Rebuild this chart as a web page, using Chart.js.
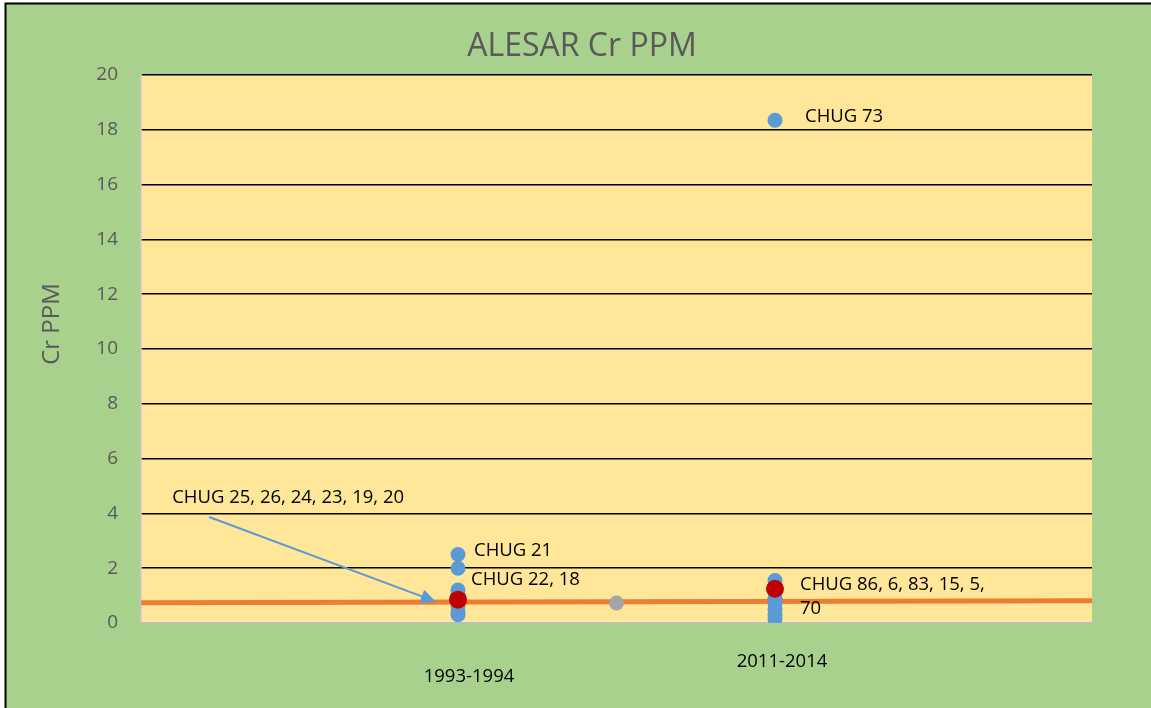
<!DOCTYPE html>
<html>
<head>
<meta charset="utf-8">
<script src="https://cdn.jsdelivr.net/npm/chart.js@4.4.0/dist/chart.umd.min.js"></script>
<style>
  html, body { margin: 0; padding: 0; background: #fff; }
</style>
</head>
<body>
<canvas id="myChart" width="1151" height="708"></canvas>
<script>
// data
var periods = ['1993-1994', '2011-2014'];
var periodX = [1, 2];
var cr1993 = [2.5, 2.0, 1.2, 1.0, 0.8, 0.6, 0.4, 0.3];
var cr2011 = [18.35, 1.55, 1.3, 1.1, 0.9, 0.7, 0.5, 0.3, 0.15];
var meanCr = [0.85, 1.25];
var midX = 1.5;
var midCr = 0.73;
var trendX = [0, 3];
var trendCr = [0.74, 0.81];

// sample labels, tied to a point value
var labelText = ['CHUG 21', 'CHUG 22, 18', 'CHUG 73', 'CHUG 86, 6, 83, 15, 5,', '70'];
var labelX = [1, 1, 2, 2, 2];
var labelY = [2.5, 1.2, 18.35, 1.25, 1.25];
var arrowText = 'CHUG 25, 26, 24, 23, 19, 20';
var arrowFrom = [0.215, 3.87];
var arrowTo = [0.93, 0.78];

var FONT = '"Open Sans", Lato, "Liberation Sans", sans-serif';
var ctx = document.getElementById('myChart').getContext('2d');

function pts(xs, ys) {
    return ys.map(function (y, i) { return { x: Array.isArray(xs) ? xs[i] : xs, y: y }; });
}

// fundo, moldura, títulos e rótulos
var decor = {
    id: 'decor',
    beforeDraw: function (chart) {
        var c = chart.ctx, a = chart.chartArea;
        c.save();
        c.fillStyle = '#ffffff';
        c.fillRect(0, 0, chart.width, chart.height);
        c.fillStyle = '#A9D18E';
        c.fillRect(5, 3, chart.width - 5, chart.height - 3);
        c.strokeStyle = '#000000';
        c.lineWidth = 2;
        c.beginPath();
        c.moveTo(5.5, chart.height);
        c.lineTo(5.5, 3.5);
        c.lineTo(chart.width, 3.5);
        c.stroke();
        c.fillStyle = '#FFE699';
        c.fillRect(a.left, a.top, a.right - a.left, a.bottom - a.top);
        c.restore();
    },
    afterDraw: function (chart) {
        var c = chart.ctx, a = chart.chartArea;
        var xs = chart.scales.x, ys = chart.scales.y;
        c.save();
        // title
        c.fillStyle = '#595959';
        c.font = '32px ' + FONT;
        c.textAlign = 'center';
        c.textBaseline = 'middle';
        c.fillText('ALESAR Cr PPM', 582, 47);
        // y title
        c.font = '24px ' + FONT;
        c.translate(52, 324);
        c.rotate(-Math.PI / 2);
        c.fillText('Cr PPM', 0, 0);
        c.restore();

        c.save();
        c.fillStyle = '#000000';
        c.font = '18.5px ' + FONT;
        c.textBaseline = 'middle';
        c.textAlign = 'center';
        // period labels
        c.fillText(periods[0], xs.getPixelForValue(periodX[0]) + 11, a.bottom + 54);
        c.fillText(periods[1], xs.getPixelForValue(periodX[1]) + 7, a.bottom + 39);
        // point labels
        c.textAlign = 'left';
        var dx = [16, 13, 30, 25, 25];
        var dy = [-4, -10, -3, -4, 20];
        labelText.forEach(function (t, i) {
            c.fillText(t, xs.getPixelForValue(labelX[i]) + dx[i], ys.getPixelForValue(labelY[i]) + dy[i]);
        });
        // arrow
        var x0 = xs.getPixelForValue(arrowFrom[0]), y0 = ys.getPixelForValue(arrowFrom[1]);
        var x1 = xs.getPixelForValue(arrowTo[0]), y1 = ys.getPixelForValue(arrowTo[1]);
        c.fillText(arrowText, x0 - 37, y0 - 19);
        var ang = Math.atan2(y1 - y0, x1 - x0);
        c.strokeStyle = '#5B9BD5';
        c.fillStyle = '#5B9BD5';
        c.lineWidth = 2;
        c.beginPath();
        c.moveTo(x0, y0);
        c.lineTo(x1 - 12 * Math.cos(ang), y1 - 12 * Math.sin(ang));
        c.stroke();
        c.beginPath();
        c.moveTo(x1, y1);
        c.lineTo(x1 - 15 * Math.cos(ang) + 7 * Math.sin(ang), y1 - 15 * Math.sin(ang) - 7 * Math.cos(ang));
        c.lineTo(x1 - 15 * Math.cos(ang) - 7 * Math.sin(ang), y1 - 15 * Math.sin(ang) + 7 * Math.cos(ang));
        c.closePath();
        c.fill();
        c.restore();
    }
};

var config = {
    type: 'scatter',
    data: {
        datasets: [
            {
                type: 'line',
                label: 'Tendência',
                data: pts(trendX, trendCr),
                borderColor: '#ED7D31',
                borderWidth: 5,
                pointRadius: 0,
                order: 4
            },
            {
                label: periods[0],
                data: pts(periodX[0], cr1993),
                backgroundColor: '#5B9BD5',
                borderWidth: 0,
                pointRadius: 7.5,
                order: 3
            },
            {
                label: periods[1],
                data: pts(periodX[1], cr2011),
                backgroundColor: '#5B9BD5',
                borderWidth: 0,
                pointRadius: 7.5,
                order: 3
            },
            {
                label: 'Mid',
                data: [{ x: midX, y: midCr }],
                backgroundColor: '#A5A5A5',
                borderWidth: 0,
                pointRadius: 7.5,
                order: 2
            },
            {
                label: 'Média',
                data: pts(periodX, meanCr),
                backgroundColor: '#C00000',
                borderWidth: 0,
                pointRadius: 9,
                order: 1
            }
        ]
    },
    options: {
        responsive: false,
        animation: false,
        devicePixelRatio: 1,
        layout: { padding: { top: 75, right: 59, left: 0, bottom: 0 } },
        plugins: {
            legend: { display: false },
            tooltip: { enabled: false }
        },
        scales: {
            x: {
                type: 'linear',
                min: 0,
                max: 3,
                ticks: { display: false },
                grid: { display: false },
                border: { display: true, color: '#BFBFBF', width: 1.5 },
                afterFit: function (s) { s.height = 85; }
            },
            y: {
                min: 0,
                max: 20,
                ticks: {
                    stepSize: 2,
                    padding: 23,
                    color: '#595959',
                    font: { size: 19, family: FONT }
                },
                grid: {
                    drawTicks: false,
                    color: function (c) { return c.tick.value === 0 ? 'rgba(0,0,0,0)' : '#000000'; },
                    lineWidth: 1.5
                },
                border: { display: true, color: '#C9C2D6', width: 1.5 },
                afterFit: function (s) { s.width = 141; }
            }
        }
    },
    plugins: [decor]
};

var chart = new Chart(ctx, config);
</script>
</body>
</html>
